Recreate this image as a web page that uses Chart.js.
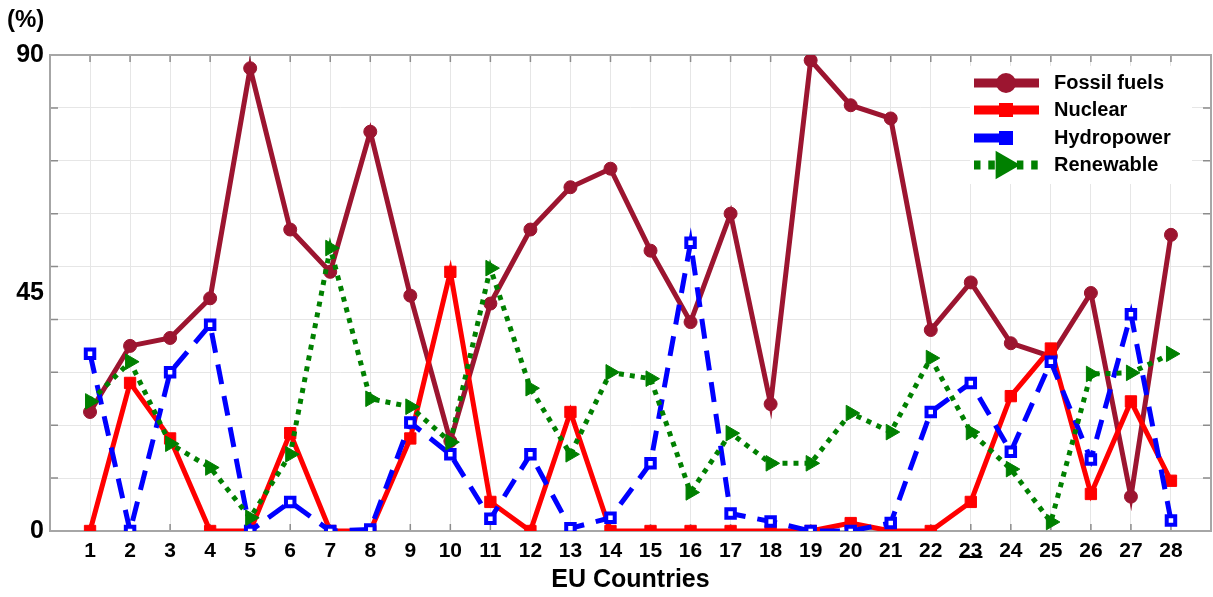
<!DOCTYPE html>
<html>
<head>
<meta charset="utf-8">
<script src="https://cdn.jsdelivr.net/npm/chart.js@4.4.0/dist/chart.umd.min.js"></script>
<style>
  html, body { margin: 0; padding: 0; background: #fff; overflow: hidden; }
  #wrap { position: relative; width: 1221px; height: 597px; }
</style>
</head>
<body>
<div id="wrap"><canvas id="myChart"></canvas></div>
<script>
const countries = [1, 2, 3, 4, 5, 6, 7, 8, 9, 10, 11, 12, 13, 14, 15, 16, 17, 18, 19, 20, 21, 22, 23, 24, 25, 26, 27, 28];
const fossil = [22.5, 35, 36.5, 44, 87.5, 57, 49, 75.5, 44.5, 17, 43, 57, 65, 68.5, 53, 39.5, 60, 24, 89, 80.5, 78, 38, 47, 35.5, 33, 45, 6.5, 56];
const nuclear = [0, 28, 17.5, 0, 0, 18.5, 0, 0, 17.5, 49, 5.5, 0, 22.5, 0, 0, 0, 0, 0, 0, 1.5, 0, 0, 5.5, 25.5, 34.5, 7, 24.5, 9.5];
const hydro = [33.5, 0, 30, 39, 0, 5.5, 0, 0.3, 20.5, 14.5, 2.3, 14.5, 0.5, 2.5, 12.8, 54.5, 3.3, 1.8, 0, 0, 1.5, 22.5, 28, 15, 32, 13.5, 41, 2];
const renewable = [24.5, 32, 16.5, 12, 2.5, 14.5, 53.5, 25, 23.5, 16.8, 49.7, 27, 14.5, 30, 28.8, 7.3, 18.5, 12.8, 12.8, 22.3, 18.7, 32.7, 18.7, 11.7, 1.7, 29.7, 29.9, 33.5];
const yLabels = [0, 45, 90];
const yGrid = [0, 10, 20, 30, 40, 45, 50, 60, 70, 80, 90];
const seriesNames = ["Fossil fuels", "Nuclear", "Hydropower", "Renewable"];

const FONT = "'Liberation Sans', Arial, sans-serif";
const colFossil = "#9c1530";
const colNuclear = "#ff0000";
const colHydro = "#0000ff";
const colRenew = "#008000";

function pts(values) {
  return countries.map((c, i) => ({ x: c, y: values[i] }));
}

// legend marker drawing
function marker(ctx, style, x, y, r, fill) {
  ctx.save();
  ctx.setLineDash([]);
  ctx.fillStyle = fill;
  ctx.beginPath();
  if (style === "circle") {
    ctx.arc(x, y, r, 0, Math.PI * 2);
  } else if (style === "rect") {
    ctx.rect(x - r, y - r, 2 * r, 2 * r);
  } else {
    ctx.moveTo(x + r * 1.1, y);
    ctx.lineTo(x - r * 0.8, y - r * 1.1);
    ctx.lineTo(x - r * 0.8, y + r * 1.1);
    ctx.closePath();
  }
  ctx.fill();
  ctx.restore();
}

const framePlugin = {
  id: "frame",
  beforeDatasetsDraw(chart) {
    const { ctx, chartArea: a, scales: { x, y } } = chart;
    ctx.save();
    ctx.strokeStyle = "#8c8c8c";
    ctx.lineWidth = 1.5;
    countries.forEach(c => {
      const px = x.getPixelForValue(c);
      ctx.beginPath();
      ctx.moveTo(px, a.top); ctx.lineTo(px, a.top + 7);
      ctx.moveTo(px, a.bottom); ctx.lineTo(px, a.bottom - 7);
      ctx.stroke();
    });
    yGrid.forEach(v => {
      if (v === 0 || v === 90 || v === 45) return;
      const py = y.getPixelForValue(v);
      ctx.beginPath();
      ctx.moveTo(a.left, py); ctx.lineTo(a.left + 8, py);
      ctx.moveTo(a.right, py); ctx.lineTo(a.right - 8, py);
      ctx.stroke();
    });
    ctx.strokeStyle = "#a6a6a6";
    ctx.lineWidth = 2;
    ctx.strokeRect(a.left, a.top, a.width, a.height);
    ctx.restore();
  },
  afterDraw(chart) {
    const { ctx, scales: { x } } = chart;
    ctx.save();
    // unit label
    ctx.fillStyle = "#000";
    ctx.font = "bold 24px " + FONT;
    ctx.textBaseline = "middle";
    ctx.textAlign = "left";
    ctx.fillText("(%)", 7, 20);

    // underline under 23
    ctx.font = "bold 21px " + FONT;
    const px = x.getPixelForValue(23);
    const w = ctx.measureText("23").width;
    ctx.fillRect(px - w / 2, 556, w, 2);

    // legend
    ctx.fillStyle = "#fff";
    ctx.fillRect(970, 66, 222, 118);
    const rows = [83, 110, 138, 165];
    const ds = chart.data.datasets;
    ds.forEach((d, i) => {
      const ry = rows[i];
      const x1 = d.label === "Hydropower" ? 1015 : 1039;
      ctx.save();
      ctx.strokeStyle = d.borderColor;
      ctx.lineWidth = 9;
      ctx.setLineDash(d.borderDash ? d.borderDash.map(v => v * 1.3) : []);
      ctx.beginPath();
      ctx.moveTo(974, ry);
      ctx.lineTo(x1, ry);
      ctx.stroke();
      ctx.restore();
      if (d.pointStyle === "circle") marker(ctx, "circle", 1006, ry, 10, d.borderColor);
      else if (d.pointStyle === "triangle") marker(ctx, "tri", 1006, ry, 13, d.borderColor);
      else marker(ctx, "rect", 1006, ry, 7, d.borderColor);
      ctx.fillStyle = "#000";
      ctx.font = "bold 20px " + FONT;
      ctx.textBaseline = "middle";
      ctx.textAlign = "left";
      ctx.fillText(d.label, 1054, ry);
    });
    ctx.restore();
  }
};

new Chart("myChart", {
  type: "line",
  data: {
    datasets: [
      {
        label: seriesNames[0],
        data: pts(fossil),
        borderColor: colFossil,
        backgroundColor: colFossil,
        borderWidth: 5,
        pointStyle: "circle",
        pointRadius: 6.5,
        pointBorderWidth: 1,
        order: 4
      },
      {
        label: seriesNames[1],
        data: pts(nuclear),
        borderColor: colNuclear,
        backgroundColor: colNuclear,
        borderWidth: 5,
        pointStyle: "rect",
        pointRadius: 8,
        pointBorderWidth: 1,
        order: 3
      },
      {
        label: seriesNames[2],
        data: pts(hydro),
        borderColor: colHydro,
        backgroundColor: colHydro,
        pointBackgroundColor: "#fff",
        borderWidth: 5,
        borderDash: [20, 12],
        pointStyle: "rect",
        pointRadius: 6,
        pointBorderWidth: 4,
        order: 2
      },
      {
        label: seriesNames[3],
        data: pts(renewable),
        borderColor: colRenew,
        backgroundColor: colRenew,
        borderWidth: 5,
        borderDash: [5, 6],
        pointStyle: "triangle",
        rotation: 90,
        pointRadius: 9,
        pointBorderWidth: 1,
        order: 1
      }
    ]
  },
  options: {
    responsive: true,
    maintainAspectRatio: false,
    animation: false,
    devicePixelRatio: 1,
    layout: { padding: { top: 55, right: 2, left: 0, bottom: 0 } },
    plugins: {
      legend: { display: false },
      tooltip: { enabled: false }
    },
    elements: { line: { tension: 0, fill: false } },
    scales: {
      x: {
        type: "linear",
        min: 0,
        max: 29,
        afterFit(scale) { scale.height = 66; },
        border: { display: false },
        grid: { color: "#e6e6e6", drawTicks: true, tickLength: 8, tickColor: "rgba(0,0,0,0)" },
        ticks: {
          stepSize: 1,
          autoSkip: false,
          maxRotation: 0,
          padding: 0,
          color: "#000",
          font: { family: FONT, size: 21, weight: "bold" },
          callback: v => (v >= 1 && v <= 28 ? String(v) : "")
        },
        title: {
          display: true,
          text: "EU Countries",
          color: "#000",
          font: { family: FONT, size: 25, weight: "bold" },
          padding: { top: 0, bottom: 2 }
        }
      },
      y: {
        min: 0,
        max: 90,
        afterFit(scale) { scale.width = 50; },
        afterBuildTicks(scale) { scale.ticks = yGrid.map(v => ({ value: v })); },
        border: { display: false },
        grid: {
          drawTicks: false,
          color: c => (c.tick && c.tick.value === 45 ? "rgba(0,0,0,0)" : "#e6e6e6")
        },
        ticks: {
          padding: 6,
          color: "#000",
          font: { family: FONT, size: 25, weight: "bold" },
          callback: v => (yLabels.includes(v) ? String(v) : "")
        }
      }
    }
  },
  plugins: [framePlugin]
});
</script>
</body>
</html>
